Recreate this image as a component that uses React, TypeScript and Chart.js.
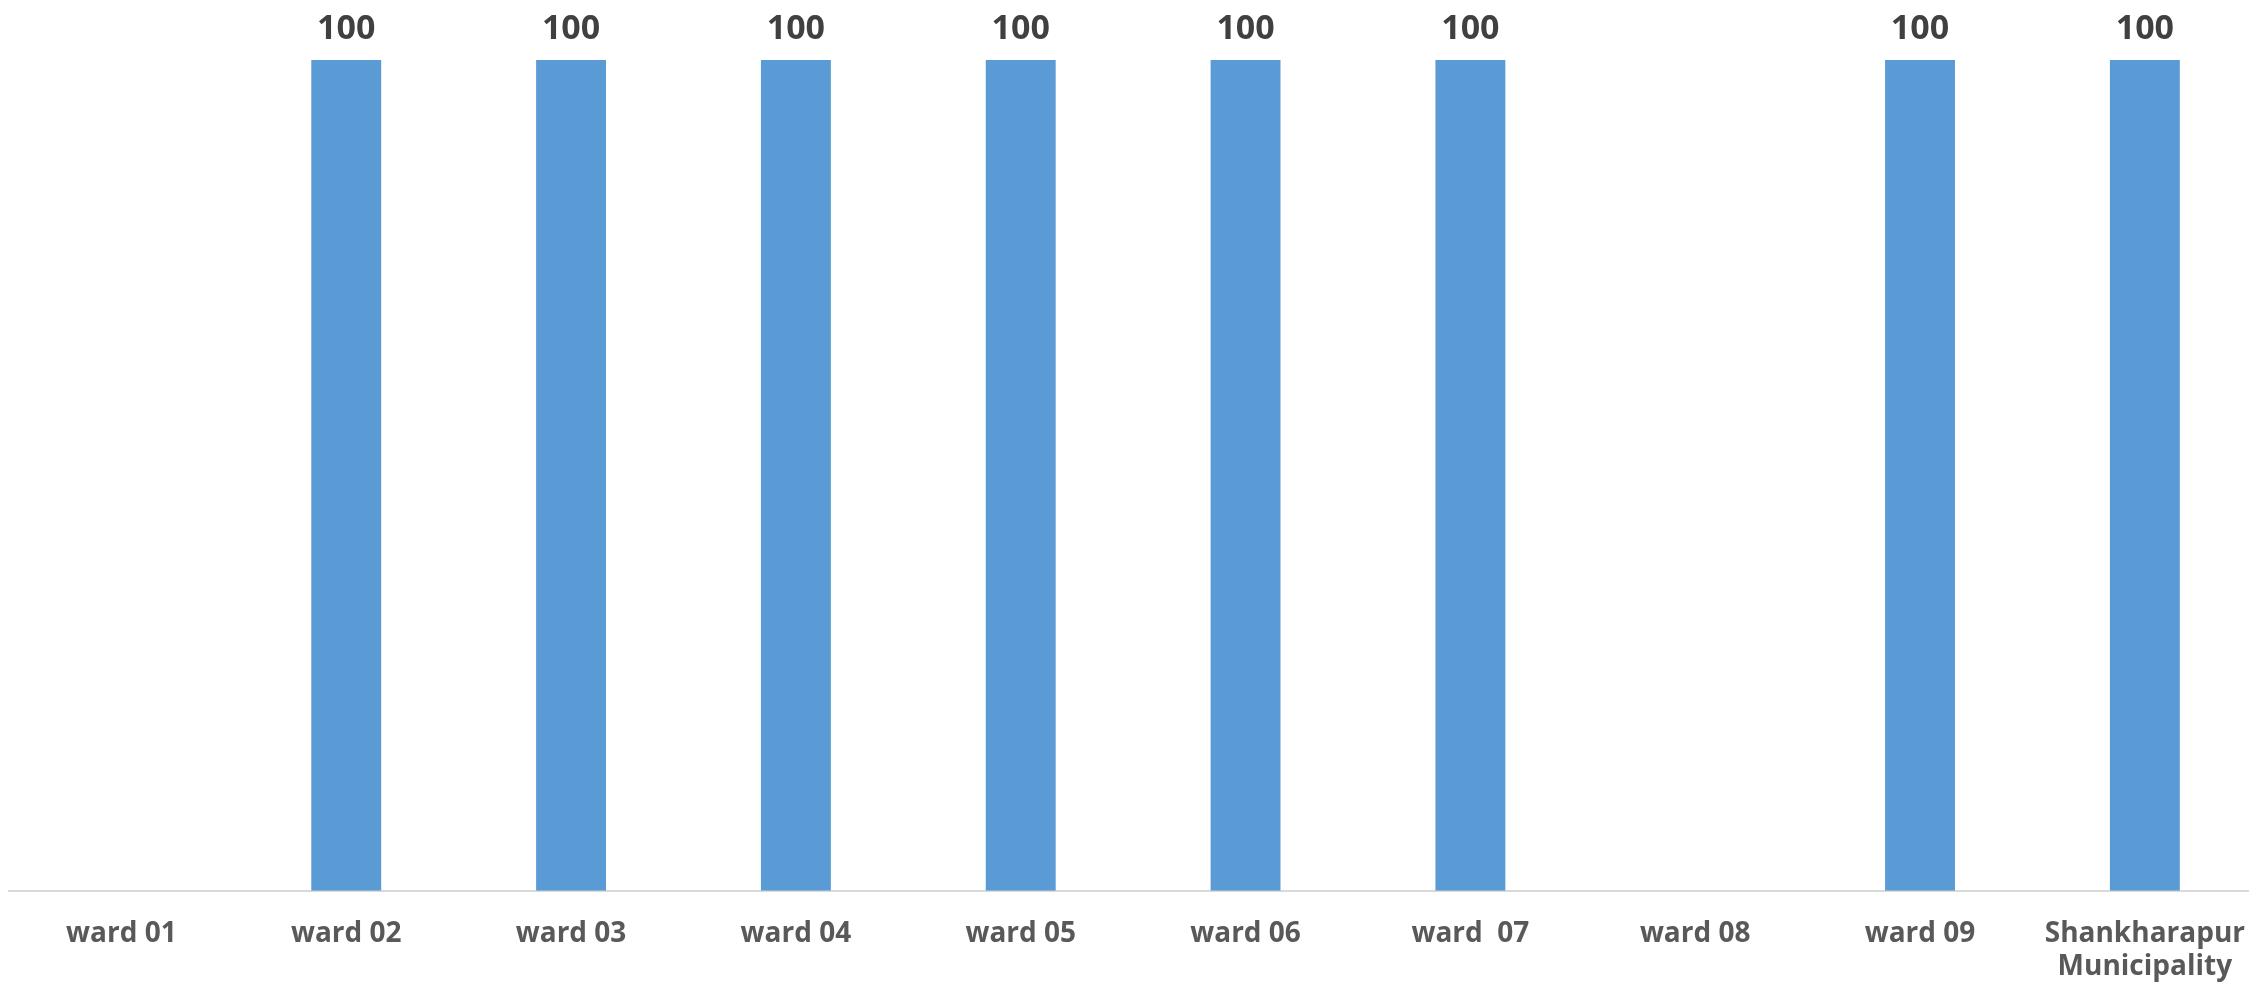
import React, { useEffect, useRef } from "react";
import { Chart, registerables } from "chart.js";

Chart.register(...registerables);

const categories: (string | string[])[] = [
  "ward 01",
  "ward 02",
  "ward 03",
  "ward 04",
  "ward 05",
  "ward 06",
  "ward  07",
  "ward 08",
  "ward 09",
  ["Shankharapur", "Municipality"],
];
const values: (number | null)[] = [null, 100, 100, 100, 100, 100, 100, null, 100, 100];

const valueLabelPlugin = {
  id: "valueLabels",
  afterDatasetsDraw(chart: any) {
    const ctx = chart.ctx;
    const meta = chart.getDatasetMeta(0);
    ctx.save();
    ctx.font = "bold 34px 'Open Sans'";
    ctx.fillStyle = "#404040";
    ctx.textAlign = "center";
    ctx.textBaseline = "alphabetic";
    meta.data.forEach((el: any, i: number) => {
      const v = values[i];
      if (v == null) return;
      ctx.fillText(String(v), el.x, el.y - 21);
    });
    ctx.restore();
  },
};

export default function App() {
  const ref = useRef<HTMLCanvasElement>(null);
  useEffect(() => {
    if (!ref.current) return;
    const chart = new Chart(ref.current, {
      type: "bar",
      data: {
        labels: categories as any,
        datasets: [
          {
            data: values as any,
            backgroundColor: "#5B9BD5",
            borderWidth: 0,
            barPercentage: 0.311,
            categoryPercentage: 1,
          },
        ],
      },
      options: {
        responsive: false,
        animation: false,
        maintainAspectRatio: false,
        layout: { padding: { left: 9, right: 0, top: 60, bottom: 0 } },
        plugins: {
          legend: { display: false },
          tooltip: { enabled: false },
          title: { display: false },
        },
        scales: {
          x: {
            grid: { display: false, drawTicks: false },
            border: { display: true, color: "#D9D9D9", width: 2 },
            ticks: {
              color: "#595959",
              font: { family: "'Open Sans'", size: 28, weight: "bold", lineHeight: 1.2 },
              padding: 26,
              maxRotation: 0,
              autoSkip: false,
            },
          },
          y: {
            display: false,
            min: 0,
            max: 100,
          },
        },
      },
      plugins: [valueLabelPlugin],
    });
    return () => chart.destroy();
  }, []);
  return (
    <div
      style={{
        position: "fixed",
        left: 0,
        top: 0,
        width: 2249,
        height: 986,
        overflow: "hidden",
        background: "#fff",
      }}
    >
      <canvas
        ref={ref}
        width={2271}
        height={1010}
        style={{ position: "absolute", left: 0, top: 0, width: 2271, height: 1010 }}
      />
    </div>
  );
}
